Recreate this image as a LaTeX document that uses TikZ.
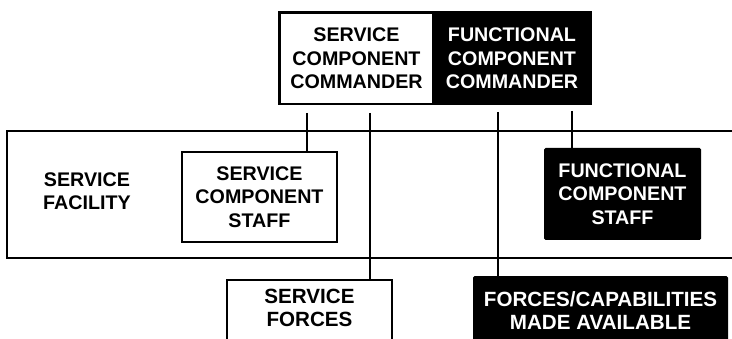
\documentclass[tikz,border=0pt]{standalone}
\usepackage{fontspec}
\setmainfont{Liberation Sans}
\begin{document}
\begin{tikzpicture}[x=1pt,y=-1pt,
  txt/.style={font=\bfseries\fontsize{19.7}{23.5}\selectfont, align=center},
  btxt/.style={font=\bfseries\fontsize{20.6}{23}\selectfont, align=center},
  wbox/.style={draw=black, line width=1.6pt, fill=white, inner sep=0pt},
  bbox/.style={fill=black, text=white, inner sep=0pt, rounded corners=1.5pt},
  conn/.style={line width=1.8pt}]
\useasboundingbox (0,0) rectangle (732,339);
\clip (0,0) rectangle (732,339);
% service facility container (open to the right)
\draw[conn] (745,131) -- (7,131) -- (7,258) -- (745,258);
\node[txt] (sfl) at (87,191) {SERVICE\\FACILITY};
% top commander box
\node[txt, wbox, minimum width=153pt, minimum height=91pt] (scc) at (356.5,58.5) {SERVICE\\COMPONENT\\COMMANDER};
\node[txt, bbox, minimum width=158pt, minimum height=91pt] (fcc) at (512,58.5) {FUNCTIONAL\\COMPONENT\\COMMANDER};
\draw[line width=1.6pt] (scc.north west) rectangle (fcc.south east);
% staffs
\node[txt, wbox, minimum width=155pt, minimum height=90pt] (scs) at (259.5,197) {SERVICE\\COMPONENT\\STAFF};
\node[txt, bbox, minimum width=157pt, minimum height=92pt] (fcs) at (622.5,194) {FUNCTIONAL\\COMPONENT\\STAFF};
% forces
\node[btxt, wbox, anchor=north, minimum width=165pt, inner ysep=9pt] (sf) at (309.5,279) {SERVICE\\FORCES\\\strut};
\node[btxt, bbox, anchor=north, minimum width=255pt, inner ysep=15pt] (fca) at (600.5,276) {FORCES/CAPABILITIES\\MADE AVAILABLE\\\strut};
% connectors
\coordinate (c1) at (307,113);
\coordinate (c2) at (370,113);
\coordinate (c3) at (498,112);
\coordinate (c4) at (572,111);
\draw[conn] (c1) -- (c1 |- scs.north);
\draw[conn] (c2) -- (c2 |- sf.north);
\draw[conn] (c3) -- (c3 |- fca.north);
\draw[conn] (c4) -- (c4 |- fcs.north);
\end{tikzpicture}
\end{document}
